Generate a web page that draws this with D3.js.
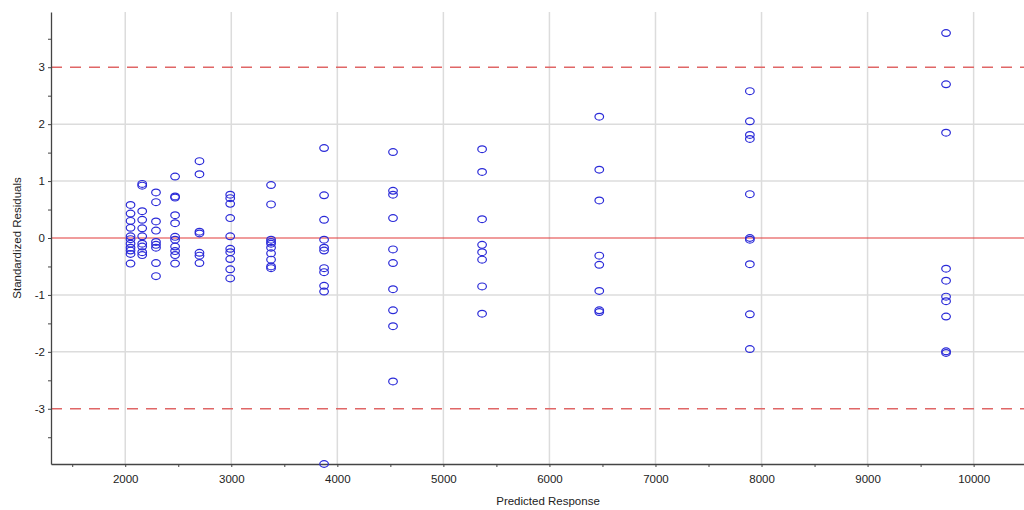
<!DOCTYPE html>
<html>
<head>
<meta charset="utf-8">
<script src="https://cdn.jsdelivr.net/npm/d3@7"></script>
<style>
  html, body { margin: 0; padding: 0; background: #fff; }
  svg { display: block; font-family: "Liberation Sans", Arial, sans-serif; }
</style>
</head>
<body>
<svg id="chart" width="1024" height="510"></svg>
<script>
// Predicted response level for each group of runs
const predicted = [2050, 2160, 2290, 2470, 2700, 2990, 3375, 3875, 4525, 5365, 6470, 7890, 9740];

// Standardized residuals observed at each predicted level (same order as above)
const residuals = [
  [0.58, 0.43, 0.30, 0.18, 0.03, -0.02, -0.10, -0.17, -0.22, -0.28, -0.45],
  [0.95, 0.92, 0.47, 0.32, 0.17, 0.03, -0.10, -0.15, -0.25, -0.30],
  [0.80, 0.63, 0.29, 0.13, -0.07, -0.12, -0.17, -0.44, -0.67],
  [1.08, 0.73, 0.71, 0.40, 0.26, 0.02, -0.03, -0.15, -0.23, -0.30, -0.45],
  [1.35, 1.12, 0.11, 0.08, -0.26, -0.31, -0.44],
  [0.76, 0.70, 0.60, 0.35, 0.03, -0.19, -0.25, -0.37, -0.55, -0.71],
  [0.93, 0.59, -0.03, -0.07, -0.10, -0.17, -0.27, -0.38, -0.50, -0.53],
  [1.58, 0.75, 0.32, -0.03, -0.17, -0.22, -0.53, -0.60, -0.84, -0.94, -3.97],
  [1.51, 0.83, 0.76, 0.35, -0.20, -0.44, -0.90, -1.27, -1.55, -2.52],
  [1.56, 1.16, 0.33, -0.12, -0.25, -0.38, -0.85, -1.33],
  [2.13, 1.20, 0.66, -0.31, -0.47, -0.93, -1.27, -1.30],
  [2.58, 2.05, 1.81, 1.74, 0.77, 0.00, -0.03, -0.46, -1.34, -1.95],
  [3.60, 2.70, 1.85, -0.54, -0.75, -1.03, -1.11, -1.38, -1.99, -2.02]
];

// Axis ticks
const xTicks = d3.range(1500, 10001, 500);
const xLabels = d3.range(2000, 10001, 1000);
const yTicks = d3.range(-3.5, 3.51, 0.5);
const yLabels = [-3, -2, -1, 0, 1, 2, 3];
const limitLines = [-3, 3];

const svg = d3.select("#chart");
const x = d3.scaleLinear().domain([1300, 10475]).range([51, 1024]);
const y = d3.scaleLinear().domain([-3.97, 3.97]).range([464, 12]);

const points = predicted.flatMap((p, i) => residuals[i].map(r => ({ p, r })));

// Grid
const grid = svg.append("g");
grid.selectAll("line.gx").data(xLabels).join("line")
  .attr("x1", d => x(d)).attr("x2", d => x(d))
  .attr("y1", y.range()[1]).attr("y2", y.range()[0])
  .attr("stroke", "#dcdcdc").attr("stroke-width", 1.5);
grid.selectAll("line.gy").data(yLabels.filter(v => v !== 0 && Math.abs(v) !== 3)).join("line")
  .attr("x1", x.range()[0]).attr("x2", x.range()[1])
  .attr("y1", d => y(d)).attr("y2", d => y(d))
  .attr("stroke", "#dcdcdc").attr("stroke-width", 1.5);

// Control limits at ±3 and the zero line
svg.append("g").selectAll("line").data(limitLines).join("line")
  .attr("x1", x.range()[0]).attr("x2", x.range()[1])
  .attr("y1", d => y(d)).attr("y2", d => y(d))
  .attr("stroke", "#e06666").attr("stroke-width", 1.6)
  .attr("stroke-dasharray", "11,8");
svg.append("line")
  .attr("x1", x.range()[0]).attr("x2", x.range()[1])
  .attr("y1", y(0)).attr("y2", y(0))
  .attr("stroke", "#e23a3a").attr("stroke-width", 1.2);

// Axes
const xAxis = d3.axisBottom(x).tickValues(xTicks)
  .tickFormat(d => d % 1000 === 0 ? d : "").tickSize(3).tickSizeOuter(0);
const yAxis = d3.axisLeft(y).tickValues(yTicks)
  .tickFormat(d => Number.isInteger(d) ? d : "").tickSize(3).tickSizeOuter(0);

const gx = svg.append("g").attr("transform", `translate(0,${y.range()[0]})`).call(xAxis);
const gy = svg.append("g").attr("transform", `translate(${x.range()[0]},0)`).call(yAxis);
[gx, gy].forEach(g => {
  g.select(".domain").attr("stroke", "#444").attr("stroke-width", 1.3);
  g.selectAll(".tick line").attr("stroke", "#444");
  g.selectAll(".tick text").attr("fill", "#222").attr("font-size", 11.5);
});
gx.selectAll(".tick text").attr("dy", "1.1em");
gy.selectAll(".tick text").attr("x", -6);

// Residual markers
svg.append("g").selectAll("ellipse").data(points).join("ellipse")
  .attr("cx", d => x(d.p)).attr("cy", d => y(d.r))
  .attr("rx", 4.3).attr("ry", 3.4)
  .attr("fill", "none").attr("stroke", "#2a2ad8").attr("stroke-width", 1.2);

// Axis titles
svg.append("text")
  .attr("x", 548).attr("y", 505).attr("text-anchor", "middle")
  .attr("font-size", 11.5).attr("fill", "#222")
  .text("Predicted Response");
svg.append("text")
  .attr("transform", `translate(21,${y(0)}) rotate(-90)`)
  .attr("text-anchor", "middle")
  .attr("font-size", 11.5).attr("fill", "#222")
  .text("Standardized Residuals");
</script>
</body>
</html>
